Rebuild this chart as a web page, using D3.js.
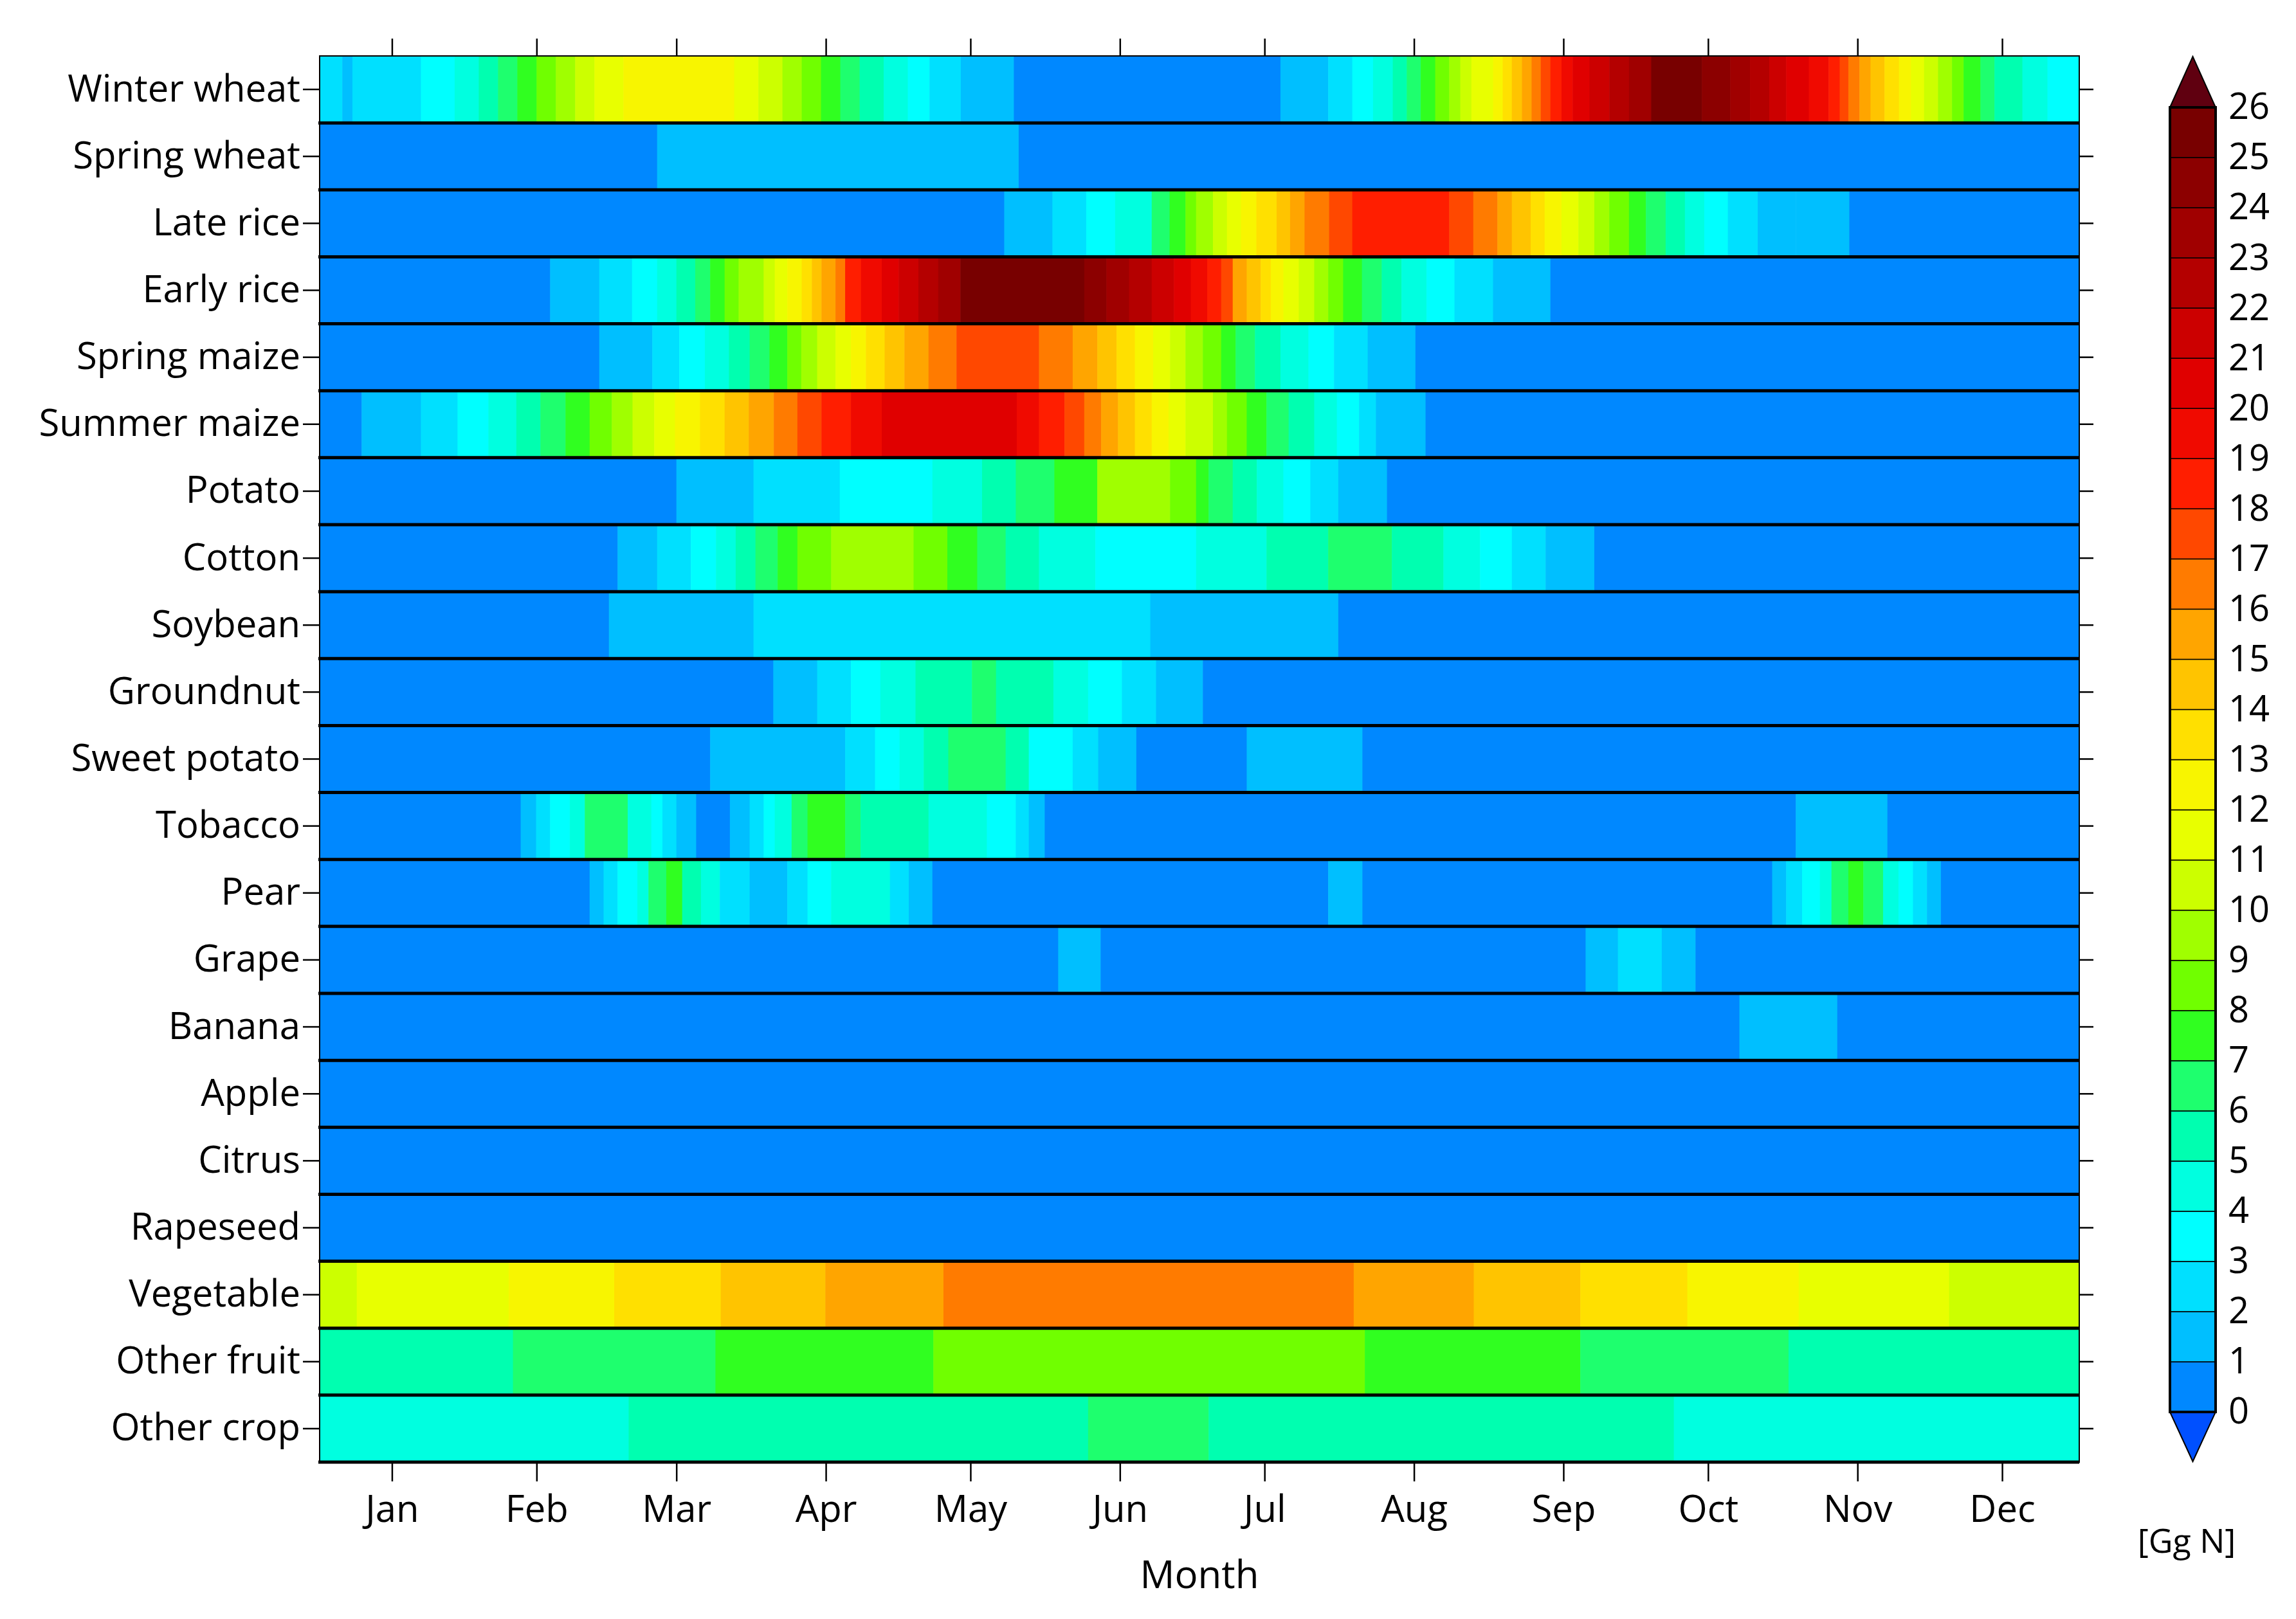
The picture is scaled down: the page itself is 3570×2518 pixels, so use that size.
<!DOCTYPE html>
<html><head><meta charset="utf-8">
<script src="https://cdn.jsdelivr.net/npm/d3@7"></script>
<style>body{margin:0;background:#fff}</style>
</head><body><svg id="c" width="3570" height="2518"></svg>
<script>
// Each crop: [startDay, value (Gg N)] runs; run lasts until next start (or day 365)
const crops = ["Winter wheat","Spring wheat","Late rice","Early rice","Spring maize","Summer maize","Potato","Cotton","Soybean","Groundnut","Sweet potato","Tobacco","Pear","Grape","Banana","Apple","Citrus","Rapeseed","Vegetable","Other fruit","Other crop"];
const months = ["Jan","Feb","Mar","Apr","May","Jun","Jul","Aug","Sep","Oct","Nov","Dec"];
const monthTickDays = [15,45,74,105,135,166,196,227,258,288,319,349];
const colorLevels = [0,1,2,3,4,5,6,7,8,9,10,11,12,13,14,15,16,17,18,19,20,21,22,23,24,25,26];
const levelColors = ["#0050ff","#0088ff","#00bfff","#00e0ff","#00ffff","#00ffe0","#00ffb0","#1eff6e","#30ff20","#70ff00","#a0ff00","#ccff00","#e8ff00","#f8f500","#ffe000","#ffc400","#ffa500","#ff7b00","#ff4800","#ff1e00","#f00a00","#e00000","#cc0000","#b40000","#a00000","#8c0000","#780000","#600010"];

const winterWheat = [[0,2.5],[4.7,1.5],[6.8,2.5],[21,3.5],[28,4.5],[33,5.5],[37,6.5],[41,7.5],[45,8.5],[49,9.5],[53,10.5],[57,11.5],[63,12.5],[86,11.5],[91,10.5],[96,9.5],[100,8.5],[104,7.5],[108,6.5],[112,5.5],[117,4.5],[122,3.5],[126.5,2.5],[133,1.5],[144,0.5],[199.3,1.5],[209.2,2.5],[214.2,3.5],[218.5,4.5],[222.6,5.5],[225.5,6.5],[228.4,7.5],[231.4,8.5],[234.3,9.5],[236.6,10.5],[238.9,11.5],[243.4,12.5],[245.4,13.5],[247.3,14.5],[249.4,15.5],[251.4,16.5],[253.3,17.5],[255.3,18.5],[257.6,19.5],[259.9,20.5],[263.4,21.5],[267.5,22.5],[271.6,23.5],[276.2,25.5],[286.7,24.5],[292.6,23.5],[296.7,22.5],[300.7,21.5],[304.2,20.5],[308.9,19.5],[313,18.5],[315.3,17.5],[317.1,16.5],[319.4,15.5],[321.7,14.5],[324.6,13.5],[327.6,12.5],[330.1,11.5],[332.8,10.5],[335.7,9.5],[338.6,8.5],[341,7.5],[344.5,6.5],[347.4,5.5],[353.2,4.5],[358.4,3.5]];
const springWheat = [[0,0.5],[70,1.5],[145,0.5]];
const lateRice = [[0,0.5],[142,1.5],[152,2.5],[159,3.5],[165,4.5],[172.6,6.5],[176.3,7.5],[179.6,8.5],[181.8,9.5],[185.3,10.5],[188.2,11.5],[191.1,12.5],[194.3,13.5],[198.5,14.5],[201.3,15.5],[204.3,16.5],[209.4,17.5],[214.2,18.5],[234.3,17.5],[239.3,16.5],[244.3,15.5],[247.3,14.5],[251.2,13.5],[254.1,12.5],[257.6,11.5],[261.1,10.5],[264.4,9.5],[267.5,8.5],[271.6,7.5],[275.1,6.5],[279.2,5.5],[283.2,4.5],[287.2,3.5],[292.1,2.5],[298.3,1.5],[306.2,1.5],[317.3,0.5]];
const earlyRice = [[0,0.5],[47.8,1.5],[58,2.5],[64.8,3.5],[70,4.5],[74,5.5],[77.9,6.5],[81,7.5],[84,8.5],[86.9,9.5],[92.1,10.5],[94.4,11.5],[97,12.5],[100,13.5],[102.1,14.5],[104.1,15.5],[107,16.5],[109,18.5],[112.3,19.5],[116.6,20.5],[120.1,21.5],[124.2,22.5],[128.3,23.5],[132.9,25.5],[158.6,24.5],[163.2,23.5],[167.9,22.5],[172.6,21.5],[177.2,20.5],[180.7,19.5],[184.1,18.5],[187,17.5],[189.4,15.5],[192.3,14.5],[195.2,13.5],[197.3,12.5],[199.9,11.5],[203.1,10.5],[206.3,9.5],[209.2,8.5],[212.3,7.5],[216.2,6.5],[220.3,5.5],[224.4,4.5],[229.6,3.5],[235.4,2.5],[243.4,1.5],[255.3,0.5]];
const springMaize = [[0,0.5],[58,1.5],[69,2.5],[74.6,3.5],[79.9,4.5],[84.9,5.5],[89.2,6.5],[93.3,7.5],[97,8.5],[99.9,9.5],[103.2,10.5],[107,11.5],[110.2,12.5],[113.3,13.5],[117.2,14.5],[121.3,15.5],[126.3,16.5],[132.1,17.5],[149.2,16.5],[156.2,15.5],[161.3,14.5],[165.3,13.5],[169.1,12.5],[172.9,11.5],[176.4,10.5],[179.6,9.5],[183.2,8.5],[187,7.5],[190,6.5],[194,5.5],[199.3,4.5],[205.1,3.5],[210.4,2.5],[217.4,1.5],[227.3,0.5]];
const summerMaize = [[0,0.5],[8.7,1.5],[21,2.5],[28.6,3.5],[35,4.5],[40.8,5.5],[45.8,6.5],[51,7.5],[56,8.5],[60.6,9.5],[64.9,10.5],[69.4,11.5],[73.7,12.5],[78.9,13.5],[84,14.5],[89,15.5],[94.2,16.5],[99.1,17.5],[104.1,18.5],[110.2,19.5],[116.6,20.5],[144.6,19.5],[149.2,18.5],[154.5,17.5],[158.6,16.5],[162.1,15.5],[165.6,14.5],[169.1,13.5],[172.6,12.5],[176.1,11.5],[179.6,10.5],[185.3,9.5],[188.2,8.5],[192.3,7.5],[196.4,6.5],[201,5.5],[206.3,4.5],[211,3.5],[215.6,2.5],[219.1,1.5],[229.4,0.5]];
const potato = [[0,0.5],[74,1.5],[90,2.5],[107.9,3.5],[127.1,4.5],[137.4,5.5],[144.4,6.5],[152.4,7.5],[161.3,9.5],[176.4,8.5],[181.8,7.5],[184.4,6.5],[189.4,5.5],[194.4,4.5],[199.9,3.5],[205.5,2.5],[211.3,1.5],[221.4,0.5]];
const cotton = [[0,0.5],[61.8,1.5],[70,2.5],[77,3.5],[82.2,4.5],[86.3,5.5],[90.4,6.5],[95,7.5],[99.1,8.5],[106.1,9.5],[123.2,8.5],[130.2,7.5],[136.4,6.5],[142.3,5.5],[149.2,4.5],[160.9,3.5],[181.8,4.5],[196.4,5.5],[209.2,6.5],[222.4,5.5],[233.1,4.5],[240.7,3.5],[247.3,2.5],[254.3,1.5],[264.4,0.5]];
const soybean = [[0,0.5],[60,1.5],[90,2.5],[172.3,1.5],[211.3,0.5]];
const groundnut = [[0,0.5],[94.1,1.5],[103.2,2.5],[110.2,3.5],[116.3,4.5],[123.6,5.5],[135.3,6.5],[140.3,5.5],[152.2,4.5],[159.4,3.5],[166.4,2.5],[173.5,1.5],[183.2,0.5]];
const sweetPotato = [[0,0.5],[81,1.5],[109,2.5],[115.2,3.5],[120.3,4.5],[125.3,5.5],[130.4,6.5],[142.3,5.5],[147.1,3.5],[156.2,2.5],[161.5,1.5],[169.4,0.5],[192.3,1.5],[216.3,0.5]];
const tobacco = [[0,0.5],[41.7,1.5],[44.9,2.5],[47.8,3.5],[51.9,4.5],[55,6.5],[63.9,4.5],[68.8,3.5],[71.1,2.5],[74,1.5],[78.1,0.5],[85.1,1.5],[89.2,2.5],[92.1,3.5],[94.4,4.5],[97.9,6.5],[101.2,7.5],[109,6.5],[112.2,5.5],[126.3,4.5],[138.4,3.5],[144.4,2.5],[147.1,1.5],[150.4,0.5],[306.2,1.5],[325.2,0.5]];
const pear = [[0,0.5],[56,1.5],[58.9,2.5],[61.8,3.5],[65.9,4.5],[68.2,6.5],[71.9,7.5],[75.2,5.5],[79.1,4.5],[83,2.5],[89.2,1.5],[97,2.5],[101.2,3.5],[106.1,4.5],[118.3,2.5],[122.2,1.5],[127.1,0.5],[209.2,1.5],[216.3,0.5],[301.3,1.5],[304.2,2.5],[307.5,3.5],[311.2,4.5],[313.6,6.5],[317.1,7.5],[320.2,6.5],[324.3,4.5],[327.5,3.5],[330.5,2.5],[333.4,1.5],[336.3,0.5]];
const grape = [[0,0.5],[153.2,1.5],[162,0.5],[262.6,1.5],[269.3,2.5],[278.4,1.5],[285.4,0.5]];
const banana = [[0,0.5],[294.5,1.5],[314.8,0.5]];
const apple = [[0,0.5]];
const citrus = [[0,0.5]];
const rapeseed = [[0,0.5]];
const vegetable = [[0,10.5],[7.7,11.5],[39.2,12.5],[61.1,13.5],[83.2,14.5],[104.9,15.5],[129.4,16.5],[214.5,15.5],[239.4,14.5],[261.5,13.5],[283.7,12.5],[306.8,11.5],[338,10.5]];
const otherFruit = [[0,5.5],[40.1,6.5],[82.1,7.5],[127.3,8.5],[216.8,7.5],[261.5,6.5],[304.7,5.5]];
const otherCrop = [[0,4.5],[64.1,5.5],[159.4,6.5],[184.4,5.5],[280.9,4.5]];
const cropRuns = [winterWheat,springWheat,lateRice,earlyRice,springMaize,summerMaize,potato,cotton,soybean,groundnut,sweetPotato,tobacco,pear,grape,banana,apple,citrus,rapeseed,vegetable,otherFruit,otherCrop];

const svg = d3.select("#c");
const FONT = "'Liberation Sans Narrow','Open Sans',sans-serif";
const L=497, R=3233, T=87, B=2274;
const x = d3.scaleLinear().domain([0,365]).range([L,R]);
const y = d3.scaleBand().domain(crops).range([T,B]).padding(0);
const color = d3.scaleThreshold().domain(colorLevels).range(levelColors);

const g = svg.append("g");
crops.forEach((c,i)=>{
  const runs = cropRuns[i];
  runs.forEach((r,j)=>{
    const end = j<runs.length-1 ? runs[j+1][0] : 365;
    g.append("rect").attr("x",x(r[0])).attr("y",y(c))
     .attr("width",x(end)-x(r[0])+0.6).attr("height",y.bandwidth())
     .attr("fill",color(r[1]));
  });
});
// separators
crops.forEach((c,i)=>{ if(i>0) svg.append("line").attr("x1",L-2).attr("x2",R).attr("y1",y(c)).attr("y2",y(c)).attr("stroke","#000").attr("stroke-width",5); });
svg.append("line").attr("x1",L-2).attr("x2",R).attr("y1",B).attr("y2",B).attr("stroke","#000").attr("stroke-width",5);
svg.append("rect").attr("x",L).attr("y",T).attr("width",R-L).attr("height",B-T).attr("fill","none").attr("stroke","#000").attr("stroke-width",2);

// axes
const axL = d3.axisLeft(y).tickSize(26).tickPadding(4);
const gl = svg.append("g").attr("transform",`translate(${L},0)`).call(axL);
gl.select(".domain").remove();
gl.selectAll("text").attr("font-family",FONT).attr("font-size",58).attr("fill","#000");
gl.selectAll("line").attr("stroke-width",2.5);
const axR = d3.axisRight(y).tickSize(22).tickFormat("");
const gr = svg.append("g").attr("transform",`translate(${R},0)`).call(axR);
gr.select(".domain").remove(); gr.selectAll("line").attr("stroke-width",2.5);

const axB = d3.axisBottom(x).tickValues(monthTickDays).tickFormat((d,i)=>months[i]).tickSize(30).tickPadding(22);
const gb = svg.append("g").attr("transform",`translate(0,${B})`).call(axB);
gb.select(".domain").remove();
gb.selectAll("text").attr("font-family",FONT).attr("font-size",58).attr("fill","#000");
gb.selectAll("line").attr("stroke-width",2.5);
const axT = d3.axisTop(x).tickValues(monthTickDays).tickFormat("").tickSize(27);
const gt = svg.append("g").attr("transform",`translate(0,${T})`).call(axT);
gt.select(".domain").remove(); gt.selectAll("line").attr("stroke-width",2.5);

svg.append("text").attr("x",(L+R)/2).attr("y",2470).attr("text-anchor","middle")
  .attr("font-family",FONT).attr("font-size",60).text("Month");

// colorbar
const cbL=3374, cbR=3445, cbT=167, cbB=2196;
const cy = d3.scaleLinear().domain([0,26]).range([cbB,cbT]);
const cb = svg.append("g");
for(let k=0;k<26;k++){
  cb.append("rect").attr("x",cbL).attr("y",cy(k+1)).attr("width",cbR-cbL).attr("height",cy(k)-cy(k+1))
    .attr("fill",color(k+0.5)).attr("stroke","#000").attr("stroke-width",1.5);
}
const mid=(cbL+cbR)/2;
cb.append("path").attr("d",`M${cbL},${cbT}L${mid},88L${cbR},${cbT}Z`).attr("fill",color(27)).attr("stroke","#000").attr("stroke-width",2);
cb.append("path").attr("d",`M${cbL},${cbB}L${mid},2273L${cbR},${cbB}Z`).attr("fill",color(-1)).attr("stroke","#000").attr("stroke-width",2);
cb.append("rect").attr("x",cbL).attr("y",cbT).attr("width",cbR-cbL).attr("height",cbB-cbT).attr("fill","none").attr("stroke","#000").attr("stroke-width",4);
const axC = d3.axisRight(cy).tickValues(colorLevels).tickSize(0).tickPadding(20).tickFormat(d3.format("d"));
const gc = svg.append("g").attr("transform",`translate(${cbR},0)`).call(axC);
gc.select(".domain").remove();
gc.selectAll("text").attr("font-family",FONT).attr("font-size",56).attr("fill","#000");
svg.append("text").attr("x",3400).attr("y",2415).attr("text-anchor","middle")
  .attr("font-family",FONT).attr("font-size",52).text("[Gg N]");
</script></body></html>
